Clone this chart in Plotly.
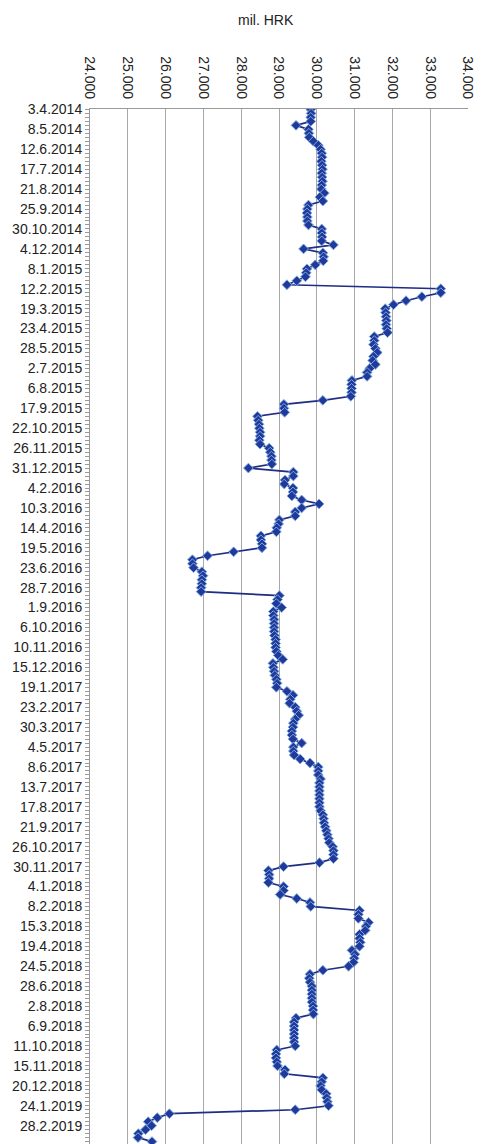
import pandas as pd
import plotly.graph_objects as go

# Weekly observation dates (one week missing in Aug/Sep 2015)
all_weeks = pd.date_range("2014-04-03", "2019-03-28", freq="7D")
all_weeks = [d for d in all_weeks if d != pd.Timestamp("2015-08-13")]
DATES = [f"{d.day}.{d.month}.{d.year}" for d in all_weeks]

TICK_LABELS = [
    "3.4.2014", "8.5.2014", "12.6.2014", "17.7.2014", "21.8.2014", "25.9.2014",
    "30.10.2014", "4.12.2014", "8.1.2015", "12.2.2015", "19.3.2015", "23.4.2015",
    "28.5.2015", "2.7.2015", "6.8.2015", "17.9.2015", "22.10.2015", "26.11.2015",
    "31.12.2015", "4.2.2016", "10.3.2016", "14.4.2016", "19.5.2016", "23.6.2016",
    "28.7.2016", "1.9.2016", "6.10.2016", "10.11.2016", "15.12.2016", "19.1.2017",
    "23.2.2017", "30.3.2017", "4.5.2017", "8.6.2017", "13.7.2017", "17.8.2017",
    "21.9.2017", "26.10.2017", "30.11.2017", "4.1.2018", "8.2.2018", "15.3.2018",
    "19.4.2018", "24.5.2018", "28.6.2018", "2.8.2018", "6.9.2018", "11.10.2018",
    "15.11.2018", "20.12.2018", "24.1.2019", "28.2.2019",
]

# mil. HRK
VALUES = [
    29840, 29850, 29840, 29840, 29450, 29780, 29790, 29800, 29910, 30040,
    30100, 30130, 30140, 30120, 30140, 30150, 30130, 30140, 30150, 30130,
    30120, 30200, 30080, 30160, 29780, 29750, 29740, 29750, 29750, 29780,
    30130, 30130, 30140, 30130, 30440, 29650, 30160, 30180, 30170, 29960,
    29740, 29720, 29700, 29470, 29210, 33280, 33280, 32780, 32360, 32030,
    31810, 31820, 31830, 31840, 31830, 31850, 31870, 31520, 31520, 31500,
    31550, 31600, 31500, 31480, 31550, 31400, 31330, 31330, 30930, 30920,
    30920, 30920, 30900, 30160, 29130, 29130, 29150, 28430, 28450, 28470,
    28480, 28500, 28500, 28480, 28500, 28740, 28770, 28800, 28800, 28810,
    28190, 29380, 29380, 29160, 29140, 29370, 29370, 29340, 29600, 30060,
    29600, 29430, 29430, 29010, 28990, 28940, 28930, 28520, 28520, 28550,
    28550, 27800, 27110, 26710, 26710, 26740, 26960, 26990, 26960, 26960,
    26940, 26940, 29010, 28960, 28930, 29070, 28850, 28850, 28870, 28870,
    28870, 28870, 28880, 28910, 28910, 28910, 28930, 28980, 29100, 28840,
    28850, 28870, 28890, 28930, 28950, 28930, 29210, 29370, 29300, 29280,
    29430, 29470, 29520, 29430, 29380, 29370, 29340, 29340, 29370, 29600,
    29380, 29380, 29400, 29560, 29820, 30040, 30040, 30040, 30100, 30070,
    30070, 30070, 30070, 30070, 30070, 30070, 30100, 30160, 30180, 30190,
    30220, 30250, 30280, 30310, 30330, 30420, 30440, 30440, 30440, 30070,
    29120, 28720, 28740, 28740, 28720, 29120, 29120, 29030, 29470, 29820,
    29840, 31130, 31100, 31100, 31370, 31300, 31280, 31130, 31130, 31150,
    31130, 30930, 31010, 30990, 30970, 30840, 30160, 29820, 29800, 29820,
    29870, 29870, 29870, 29870, 29870, 29900, 29900, 29910, 29450, 29400,
    29400, 29400, 29400, 29400, 29400, 29430, 28940, 28920, 28920, 28940,
    28960, 29160, 29140, 30160, 30130, 30100, 30130, 30250, 30260, 30280,
    30310, 29430, 26100, 25780, 25540, 25630, 25470, 25280, 25270, 25640,
]

X_MIN, X_MAX, X_STEP = 24000, 34000, 1000

n = min(len(DATES), len(VALUES))
dates = DATES[:n]
vals = VALUES[:n]
label_set = set(TICK_LABELS)
ticktext = [d if d in label_set else "" for d in dates]

fig = go.Figure(
    go.Scatter(
        x=vals,
        y=dates,
        mode="lines+markers",
        line=dict(color="#1f2d85", width=1.7),
        marker=dict(symbol="diamond", size=7.5, color="#21399a",
                    line=dict(color="#7eabe0", width=1)),
        showlegend=False,
    )
)

GRID = "#a8a8a8"
AXIS = "#9a9a9a"

# page has an 8px body margin, so the figure is sized to fill the rest
fig.update_layout(
    width=476,
    height=1136,
    margin=dict(l=82, r=16, t=101, b=0, autoexpand=False),
    paper_bgcolor="white",
    plot_bgcolor="white",
    separators=",.",
    font=dict(family="Liberation Sans, Arial, sans-serif", size=14, color="#222222"),
    xaxis=dict(
        side="top",
        range=[X_MIN, X_MAX],
        tick0=X_MIN,
        dtick=X_STEP,
        tickformat=",d",
        tickangle=90,
        showgrid=True,
        gridcolor=GRID,
        gridwidth=1,
        showline=True,
        linecolor=AXIS,
        linewidth=1,
        zeroline=False,
        ticks="",
        ticklabelstandoff=4,
        automargin=False,
    ),
    yaxis=dict(
        type="category",
        range=[259.6, -0.1],
        tickmode="array",
        tickvals=dates,
        ticktext=ticktext,
        ticks="outside",
        ticklen=4,
        tickcolor=AXIS,
        showline=True,
        linecolor=AXIS,
        linewidth=1,
        showgrid=False,
        zeroline=False,
        automargin=False,
    ),
    annotations=[
        dict(
            text="mil. HRK",
            xref="paper", yref="paper",
            x=(265.8 - 90) / 378, y=1 + (109 - 20) / 1035,
            xanchor="center", yanchor="middle",
            showarrow=False,
            font=dict(size=14, color="#222222"),
        )
    ],
)

fig.write_html("out.html", config={"displayModeBar": False})
